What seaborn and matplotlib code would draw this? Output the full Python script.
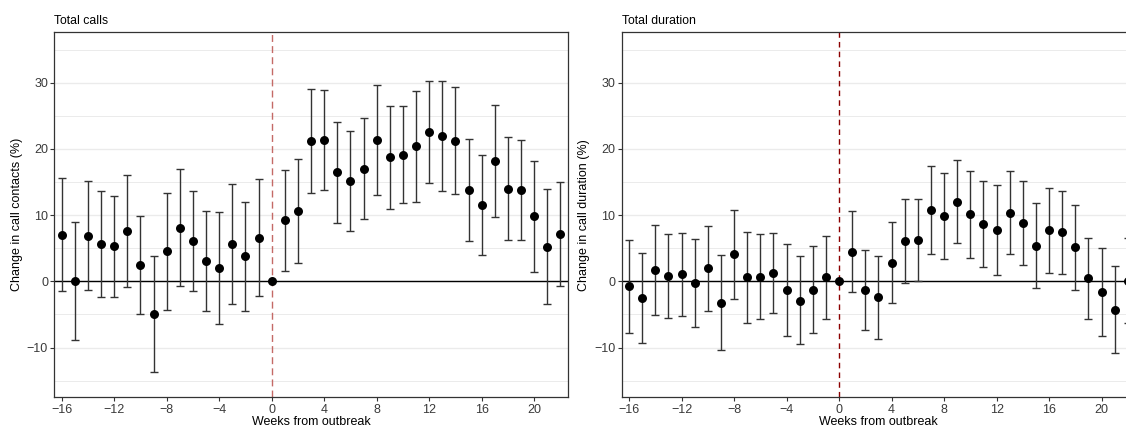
import numpy as np
import pandas as pd
import matplotlib
matplotlib.use("Agg")
import matplotlib.pyplot as plt
import seaborn as sns

weeks = list(range(-16, 23))

# Total calls: point estimate and 95% CI (percent change)
calls_est = [7.0, 0.0, 6.9, 5.6, 5.3, 7.6, 2.5, -5.0, 4.6, 8.1, 6.1, 3.1, 2.0, 5.6, 3.8, 6.6,
             0.0,
             9.2, 10.6, 21.2, 21.4, 16.5, 15.1, 17.0, 21.4, 18.8, 19.1, 20.4, 22.5, 22.0, 21.2,
             13.8, 11.5, 18.2, 14.0, 13.8, 9.8, 5.2, 7.1]
calls_lo = [-1.5, -8.9, -1.3, -2.4, -2.3, -0.9, -5.0, -13.7, -4.3, -0.7, -1.5, -4.5, -6.4, -3.4, -4.5, -2.2,
            np.nan,
            1.6, 2.8, 13.4, 13.8, 8.8, 7.6, 9.4, 13.1, 10.9, 11.8, 12.0, 14.8, 13.7, 13.2,
            6.1, 4.0, 9.7, 6.2, 6.2, 1.4, -3.4, -0.75]
calls_hi = [15.6, 8.9, 15.1, 13.6, 12.9, 16.1, 9.9, 3.8, 13.4, 17.0, 13.6, 10.6, 10.5, 14.7, 12.0, 15.4,
            np.nan,
            16.8, 18.5, 29.0, 28.9, 24.1, 22.7, 24.6, 29.7, 26.5, 26.5, 28.8, 30.3, 30.2, 29.3,
            21.5, 19.1, 26.7, 21.8, 21.4, 18.2, 13.9, 15.0]

# Total duration: point estimate and 95% CI (percent change)
dur_est = [-0.75, -2.5, 1.7, 0.8, 1.1, -0.25, 2.0, -3.2, 4.1, 0.6, 0.7, 1.3, -1.3, -2.9, -1.3, 0.6,
           0.0,
           4.5, -1.3, -2.4, 2.8, 6.1, 6.2, 10.7, 9.9, 12.0, 10.1, 8.6, 7.7, 10.3, 8.8,
           5.4, 7.75, 7.4, 5.2, 0.5, -1.6, -4.3, 0.0]
dur_lo = [-7.75, -9.3, -5.1, -5.5, -5.2, -6.9, -4.5, -10.4, -2.6, -6.3, -5.7, -4.7, -8.25, -9.4, -7.85, -5.7,
          np.nan,
          -1.6, -7.4, -8.7, -3.3, -0.25, 0.1, 4.1, 3.4, 5.8, 3.6, 2.2, 0.95, 4.1, 2.5,
          -1.05, 1.3, 1.1, -1.35, -5.7, -8.2, -10.8, -6.3]
dur_hi = [6.3, 4.3, 8.5, 7.2, 7.3, 6.4, 8.35, 4.0, 10.7, 7.5, 7.1, 7.35, 5.7, 3.9, 5.4, 6.9,
          np.nan,
          10.6, 4.8, 3.9, 9.0, 12.4, 12.5, 17.4, 16.4, 18.3, 16.6, 15.1, 14.5, 16.6, 15.2,
          11.9, 14.1, 13.6, 11.6, 6.6, 5.0, 2.3, 6.5]

x_ticks = [-16, -12, -8, -4, 0, 4, 8, 12, 16, 20]
y_ticks = [-10, 0, 10, 20, 30]

sns.set_theme(style="white")
plt.rcParams["font.family"] = ["Liberation Sans", "DejaVu Sans"]

W, H = 1126, 428
fig = plt.figure(figsize=(W / 100, H / 100), dpi=100)

panels = [
    ("Total calls", "Change in call contacts (%)", calls_est, calls_lo, calls_hi, "#C46A66", (5, 3), 54.3),
    ("Total duration", "Change in call duration (%)", dur_est, dur_lo, dur_hi, "#8B0000", (4, 3), 621.7),
]

ax_w, ax_top, ax_bot = 514.0, 32.3, 397.3
for title, ylabel, est, lo, hi, vcol, dash, left_px in panels:
    ax = fig.add_axes([left_px / W, (H - ax_bot) / H, ax_w / W, (ax_bot - ax_top) / H])
    df = pd.DataFrame({"week": weeks, "est": est, "lo": lo, "hi": hi})

    # horizontal grid only (major + minor)
    for yv in np.arange(-15, 40, 5):
        ax.axhline(yv, color="#EBEBEB", lw=1.0 if yv % 10 == 0 else 0.7, zorder=0)

    ax.axhline(0, color="black", lw=1.0, zorder=1)
    ax.axvline(0, color=vcol, lw=1.0, ls=(0, dash), zorder=1)

    ci = df.dropna()
    ax.errorbar(ci["week"], ci["est"],
                yerr=[ci["est"] - ci["lo"], ci["hi"] - ci["est"]],
                fmt="none", ecolor="#333333", elinewidth=1.0, capsize=2.6, capthick=1.0, zorder=2)
    sns.scatterplot(data=df, x="week", y="est", ax=ax, color="black", s=42,
                    edgecolor="black", linewidth=0, zorder=3, legend=False)

    ax.set_xlim(-16.56, 22.6)
    ax.set_ylim(-17.5, 37.6)
    ax.set_xticks(x_ticks)
    ax.set_xticklabels([str(v).replace("-", "\u2212") for v in x_ticks])
    ax.set_yticks(y_ticks)
    ax.set_yticklabels([str(v).replace("-", "\u2212") for v in y_ticks])
    ax.tick_params(axis="both", which="major", length=3, width=0.8, color="#333333",
                   labelsize=9, labelcolor="#3A3A3A", pad=1.5, bottom=True, left=True)
    ax.set_xlabel("Weeks from outbreak", fontsize=9, color="black", labelpad=0)
    ax.set_ylabel(ylabel, fontsize=9, color="black", labelpad=3)
    ax.set_title(title, loc="left", fontsize=8.8, color="black", pad=6)
    for sp in ax.spines.values():
        sp.set_color("#333333")
        sp.set_linewidth(0.9)
        sp.set_visible(True)
    ax.grid(False)

fig.savefig("out.png", dpi=100)
